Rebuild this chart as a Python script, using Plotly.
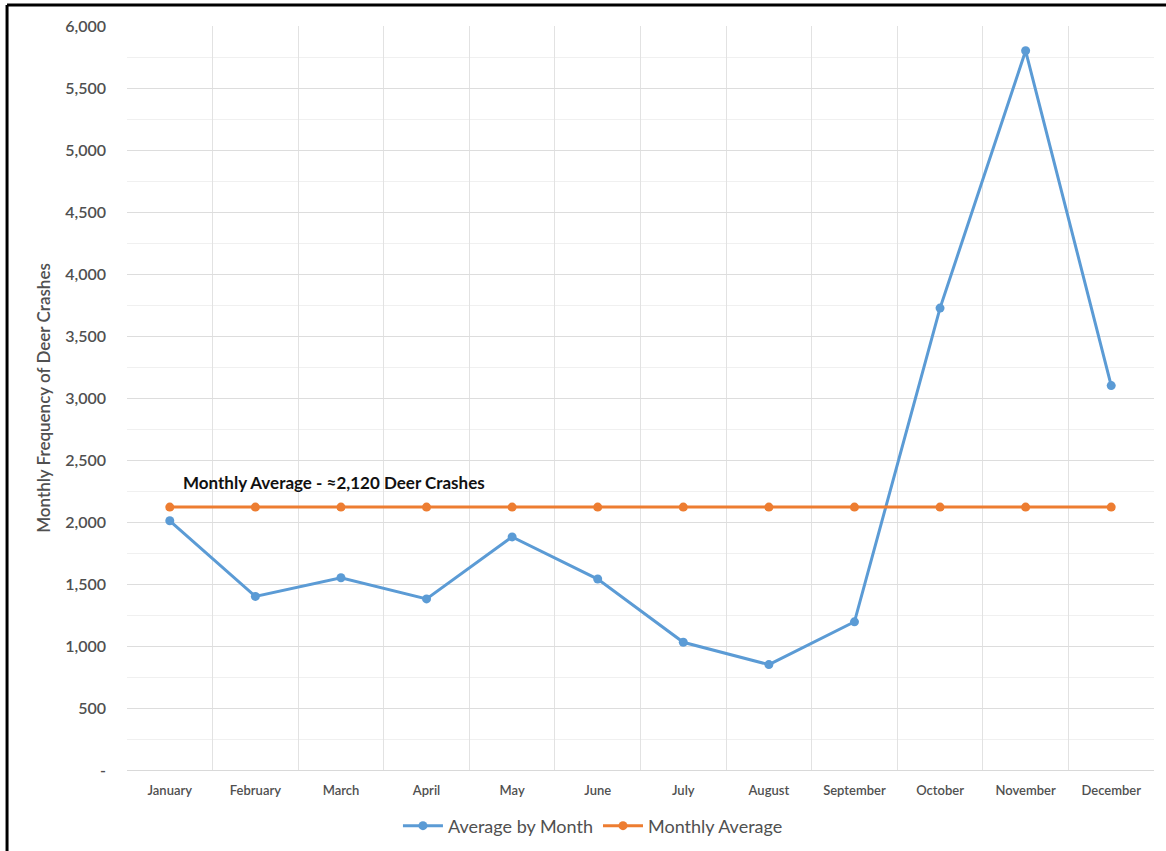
import plotly.graph_objects as go

months = ["January", "February", "March", "April", "May", "June", "July",
          "August", "September", "October", "November", "December"]
avg_by_month = [2010, 1400, 1550, 1380, 1880, 1540, 1030, 850, 1195, 3725, 5800, 3100]
monthly_average = [2120] * 12
y_tickvals = [0, 500, 1000, 1500, 2000, 2500, 3000, 3500, 4000, 4500, 5000, 5500, 6000]
y_ticktext = ["-", "500", "1,000", "1,500", "2,000", "2,500", "3,000", "3,500",
              "4,000", "4,500", "5,000", "5,500", "6,000"]
annotation_text = "Monthly Average - ≈2,120 Deer Crashes"

BLUE = "#5B9BD5"
ORANGE = "#ED7D31"
FONT = "Lato"
GRAY = "#505050"

fig = go.Figure()
fig.add_trace(go.Scatter(
    x=months, y=avg_by_month, name="Average by Month", mode="lines+markers",
    line=dict(color=BLUE, width=3), marker=dict(color=BLUE, size=9)))
fig.add_trace(go.Scatter(
    x=months, y=monthly_average, name="Monthly Average", mode="lines+markers",
    line=dict(color=ORANGE, width=3), marker=dict(color=ORANGE, size=9)))

fig.update_layout(
    width=1166, height=851,
    margin=dict(l=127, r=12, t=26, b=81, autoexpand=False),
    paper_bgcolor="white", plot_bgcolor="white",
    font=dict(family=FONT, color=GRAY),
    showlegend=True,
    legend=dict(orientation="h", x=0.4537, xanchor="center",
                yref="container", y=0.0294, yanchor="middle",
                font=dict(size=18, color=GRAY), itemwidth=40, tracegroupgap=0),
    xaxis=dict(type="category", range=[-0.5, 11.5], tickson="boundaries",
               showgrid=True, gridcolor="#E2E2E2", gridwidth=1, automargin=False,
               showline=True, linecolor="#D9D9D9", ticks="", zeroline=False,
               tickfont=dict(size=13, color=GRAY, family=FONT, weight=600),
               ticklabelstandoff=8),
    yaxis=dict(range=[0, 6000], tickvals=y_tickvals, ticktext=y_ticktext,
               showgrid=True, gridcolor="#DDDDDD", gridwidth=1, zeroline=False,
               showline=False, ticks="", automargin=False,
               minor=dict(dtick=250, showgrid=True, gridcolor="#F0F0F0", gridwidth=1),
               tickfont=dict(size=16, color=GRAY, family=FONT, weight=600),
               ticklabelstandoff=20,
               title=dict(text="Monthly Frequency of Deer Crashes",
                          font=dict(size=17, color=GRAY, family=FONT, weight=600),
                          standoff=10)),
)

fig.add_annotation(
    xref="paper", yref="paper", x=0.0526, y=0.3858, xanchor="left", yanchor="middle",
    text="<b>" + annotation_text + "</b>", showarrow=False,
    font=dict(size=17, color="#111111", family=FONT))

# black frame on top and left edges of the image
fig.add_shape(type="line", xref="paper", yref="paper",
              x0=-0.1168, x1=1.02, y0=1.0282, y1=1.0282,
              line=dict(color="black", width=3))
fig.add_shape(type="line", xref="paper", yref="paper",
              x0=-0.1168, x1=-0.1168, y0=1.0282, y1=-0.12,
              line=dict(color="black", width=3))

fig.write_html("out.html")
